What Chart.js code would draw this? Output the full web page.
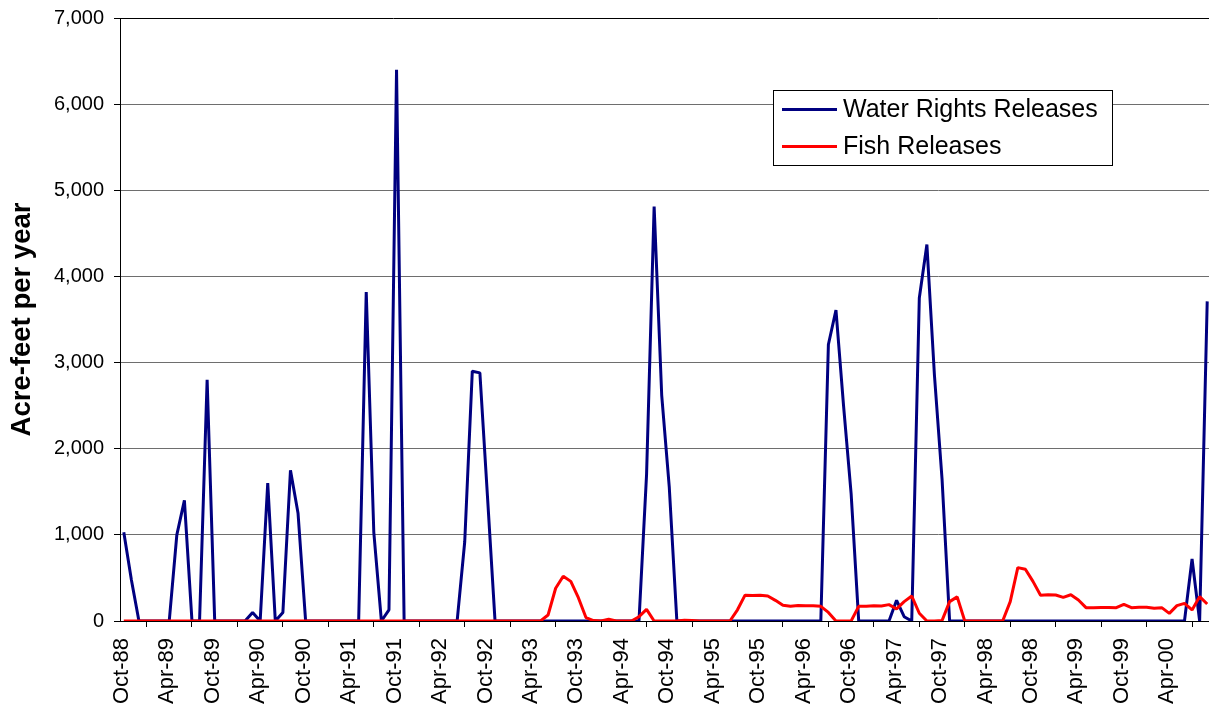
<!DOCTYPE html>
<html>
<head>
<meta charset="utf-8">
<script src="https://cdn.jsdelivr.net/npm/chart.js@4/dist/chart.umd.min.js"></script>
<style>
  html, body { margin: 0; padding: 0; background: #fff; overflow: hidden; }
  #wrap { width: 1209px; height: 719px; overflow: hidden; position: relative; }
  canvas { display: block; }
</style>
</head>
<body>
<div id="wrap"><canvas id="c" width="1214" height="719"></canvas></div>
<script>
// Categories: monthly, Oct-88 .. Sep-00
const months = [
  "Oct-88","Nov-88","Dec-88",
  "Jan-89","Feb-89","Mar-89","Apr-89","May-89","Jun-89","Jul-89","Aug-89","Sep-89","Oct-89","Nov-89","Dec-89",
  "Jan-90","Feb-90","Mar-90","Apr-90","May-90","Jun-90","Jul-90","Aug-90","Sep-90","Oct-90","Nov-90","Dec-90",
  "Jan-91","Feb-91","Mar-91","Apr-91","May-91","Jun-91","Jul-91","Aug-91","Sep-91","Oct-91","Nov-91","Dec-91",
  "Jan-92","Feb-92","Mar-92","Apr-92","May-92","Jun-92","Jul-92","Aug-92","Sep-92","Oct-92","Nov-92","Dec-92",
  "Jan-93","Feb-93","Mar-93","Apr-93","May-93","Jun-93","Jul-93","Aug-93","Sep-93","Oct-93","Nov-93","Dec-93",
  "Jan-94","Feb-94","Mar-94","Apr-94","May-94","Jun-94","Jul-94","Aug-94","Sep-94","Oct-94","Nov-94","Dec-94",
  "Jan-95","Feb-95","Mar-95","Apr-95","May-95","Jun-95","Jul-95","Aug-95","Sep-95","Oct-95","Nov-95","Dec-95",
  "Jan-96","Feb-96","Mar-96","Apr-96","May-96","Jun-96","Jul-96","Aug-96","Sep-96","Oct-96","Nov-96","Dec-96",
  "Jan-97","Feb-97","Mar-97","Apr-97","May-97","Jun-97","Jul-97","Aug-97","Sep-97","Oct-97","Nov-97","Dec-97",
  "Jan-98","Feb-98","Mar-98","Apr-98","May-98","Jun-98","Jul-98","Aug-98","Sep-98","Oct-98","Nov-98","Dec-98",
  "Jan-99","Feb-99","Mar-99","Apr-99","May-99","Jun-99","Jul-99","Aug-99","Sep-99","Oct-99","Nov-99","Dec-99",
  "Jan-00","Feb-00","Mar-00","Apr-00","May-00","Jun-00","Jul-00","Aug-00","Sep-00"
];

// Labels shown on the axis (every sixth month)
const shownLabels = ["Oct-88","Apr-89","Oct-89","Apr-90","Oct-90","Apr-91","Oct-91","Apr-92","Oct-92",
  "Apr-93","Oct-93","Apr-94","Oct-94","Apr-95","Oct-95","Apr-96","Oct-96","Apr-97","Oct-97",
  "Apr-98","Oct-98","Apr-99","Oct-99","Apr-00"];

const yTicks = [0, 1000, 2000, 3000, 4000, 5000, 6000, 7000];

const waterRights = [
  1030, 480, 0, 0, 0, 0, 0, 1000, 1400, 0, 0, 2800,            // Oct-88 .. Sep-89
  0, 0, 0, 0, 0, 100, 0, 1600, 0, 100, 1750, 1250,             // Oct-89 .. Sep-90
  0, 0, 0, 0, 0, 0, 0, 0, 3820, 1030, 0, 130,                  // Oct-90 .. Sep-91
  6400, 0, 0, 0, 0, 0, 0, 0, 0, 920, 2900, 2880,               // Oct-91 .. Sep-92
  1450, 0, 0, 0, 0, 0, 0, 0, 0, 0, 0, 0,                       // Oct-92 .. Sep-93
  0, 0, 0, 0, 0, 0, 0, 0, 0, 1700, 4810, 2620,                 // Oct-93 .. Sep-94
  1550, 0, 0, 0, 0, 0, 0, 0, 0, 0, 0, 0,                       // Oct-94 .. Sep-95
  0, 0, 0, 0, 0, 0, 0, 0, 0, 3210, 3610, 2500,                 // Oct-95 .. Sep-96
  1480, 0, 0, 0, 0, 0, 240, 50, 0, 3750, 4370, 2850,           // Oct-96 .. Sep-97
  1650, 0, 0, 0, 0, 0, 0, 0, 0, 0, 0, 0,                       // Oct-97 .. Sep-98
  0, 0, 0, 0, 0, 0, 0, 0, 0, 0, 0, 0,                          // Oct-98 .. Sep-99
  0, 0, 0, 0, 0, 0, 0, 0, 0, 720, 0, 3710                      // Oct-99 .. Sep-00
];

const fish = [
  0, 0, 0, 0, 0, 0, 0, 0, 0, 0, 0, 0,                          // Oct-88 .. Sep-89
  0, 0, 0, 0, 0, 0, 0, 0, 0, 0, 0, 0,                          // Oct-89 .. Sep-90
  0, 0, 0, 0, 0, 0, 0, 0, 0, 0, 0, 0,                          // Oct-90 .. Sep-91
  0, 0, 0, 0, 0, 0, 0, 0, 0, 0, 0, 0,                          // Oct-91 .. Sep-92
  0, 0, 0, 0, 0, 0, 0, 0, 70, 380, 520, 460,                   // Oct-92 .. Sep-93
  270, 40, 5, 0, 20, 0, 0, 0, 50, 135, 0, 0,                   // Oct-93 .. Sep-94
  0, 0, 10, 5, 0, 0, 0, 0, 0, 130, 300, 295,                   // Oct-94 .. Sep-95
  300, 290, 240, 182, 170, 180, 178, 178, 170, 100, 0, 0,      // Oct-95 .. Sep-96
  0, 170, 170, 178, 175, 190, 140, 225, 290, 90, 0, 0,         // Oct-96 .. Sep-97
  5, 225, 280, 0, 0, 0, 0, 0, 0, 225, 620, 600,                // Oct-97 .. Sep-98
  460, 300, 305, 302, 275, 305, 244, 155, 155, 158, 158, 155,  // Oct-98 .. Sep-99
  194, 155, 160, 160, 147, 155, 89, 178, 205, 128, 283, 197    // Oct-99 .. Sep-00
];

const seriesNames = ["Water Rights Releases", "Fish Releases"];
const seriesColors = ["#000080", "#FF0000"];

const FONT = "'Liberation Sans', Arial, Helvetica, sans-serif";

const insideLegend = {
  id: 'insideLegend',
  afterDraw(chart) {
    const ctx = chart.ctx;
    const bx = 773.5, by = 90.5, bw = 339, bh = 75;
    ctx.save();
    ctx.fillStyle = '#fff';
    ctx.fillRect(bx, by, bw, bh);
    ctx.strokeStyle = '#000';
    ctx.lineWidth = 1;
    ctx.strokeRect(bx, by, bw, bh);
    const rowsY = [109.5, 146.5];
    chart.data.datasets.forEach((ds, i) => {
      const y = rowsY[i];
      ctx.strokeStyle = ds.borderColor;
      ctx.lineWidth = 3;
      ctx.beginPath();
      ctx.moveTo(782, y);
      ctx.lineTo(837, y);
      ctx.stroke();
      ctx.fillStyle = '#000';
      ctx.font = "25px " + FONT;
      ctx.textBaseline = 'middle';
      ctx.textAlign = 'left';
      ctx.fillText(ds.label, 843, y + 1);
    });
    ctx.restore();
  }
};

new Chart(document.getElementById('c'), {
  type: 'line',
  data: {
    labels: months,
    datasets: [
      {
        label: seriesNames[0], data: waterRights, borderColor: seriesColors[0],
        backgroundColor: seriesColors[0], borderWidth: 3, pointRadius: 0, tension: 0,
        borderJoinStyle: 'bevel', fill: false, order: 1
      },
      {
        label: seriesNames[1], data: fish, borderColor: seriesColors[1],
        backgroundColor: seriesColors[1], borderWidth: 3, pointRadius: 0, tension: 0,
        borderJoinStyle: 'bevel', fill: false, order: 0
      }
    ]
  },
  options: {
    responsive: false,
    animation: false,
    devicePixelRatio: 1,
    layout: { padding: { left: 0, top: 18, right: 3, bottom: 0 } },
    plugins: {
      legend: { display: false },
      tooltip: { enabled: false },
      title: { display: false }
    },
    scales: {
      x: {
        type: 'category',
        offset: true,
        afterFit(scale) { scale.height = 98; },
        grid: {
          offset: true,
          drawOnChartArea: false,
          drawTicks: true,
          tickLength: 6,
          tickColor: '#000',
          color: '#000'
        },
        border: { display: true, color: '#000', width: 1 },
        ticks: {
          autoSkip: false,
          maxRotation: 90,
          minRotation: 90,
          padding: 11,
          labelOffset: -2,
          color: '#000',
          font: { family: FONT, size: 22 },
          callback(value, index) {
            const lab = months[index];
            return shownLabels.includes(lab) ? lab : null;
          }
        }
      },
      y: {
        min: yTicks[0],
        max: yTicks[yTicks.length - 1],
        afterFit(scale) { scale.width = 120; scale.paddingTop = 2; scale.paddingBottom = 2; },
        afterBuildTicks(scale) { scale.ticks = yTicks.map(v => ({ value: v })); },
        grid: {
          color: ctx => (ctx.tick && ctx.tick.value === 7000) ? '#000' : '#6e6e6e',
          lineWidth: 1,
          tickLength: 6,
          tickColor: '#000'
        },
        border: { display: true, color: '#000', width: 1 },
        ticks: {
          padding: 10,
          color: '#000',
          font: { family: FONT, size: 20 },
          callback: v => v.toLocaleString('en-US')
        },
        title: {
          display: true,
          text: 'Acre-feet per year',
          color: '#000',
          font: { family: FONT, size: 27.5, weight: 'bold' },
          padding: { top: 6, bottom: 0 }
        }
      }
    }
  },
  plugins: [insideLegend]
});
</script>
</body>
</html>
